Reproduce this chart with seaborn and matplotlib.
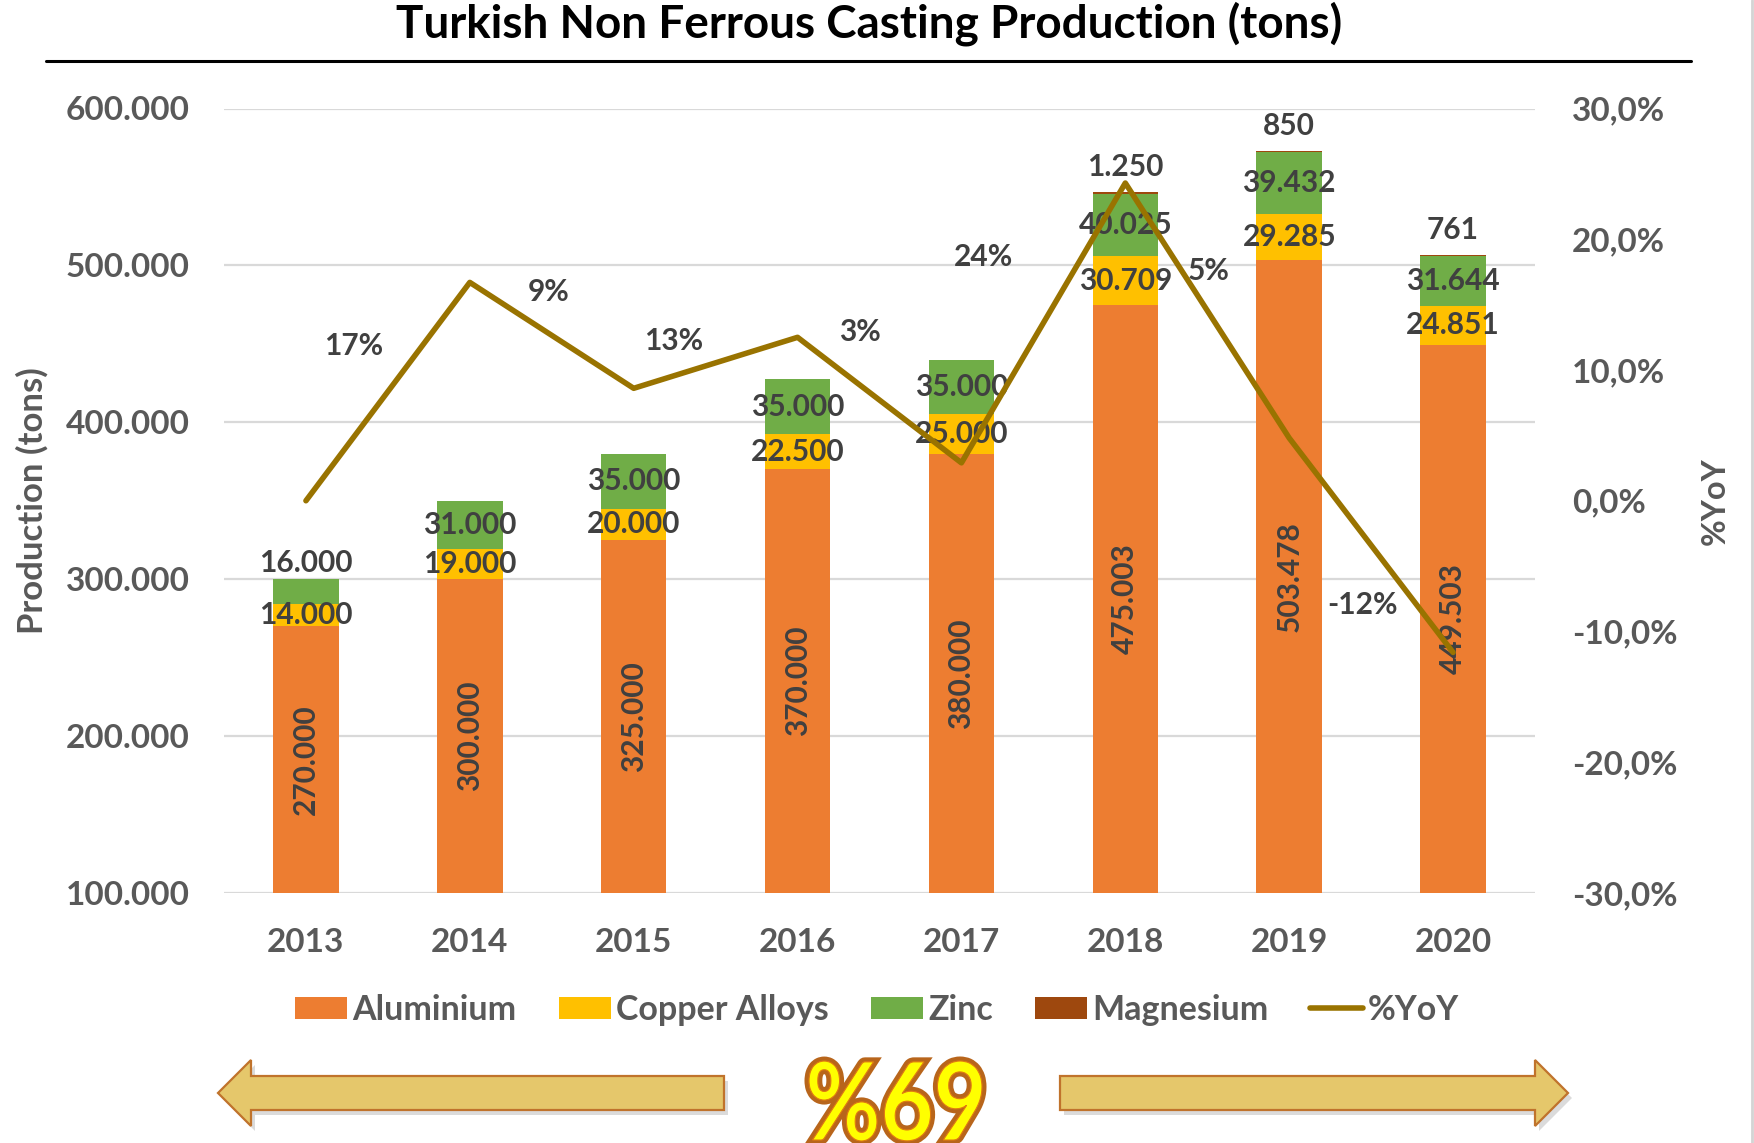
import matplotlib
matplotlib.use("Agg")
import matplotlib.pyplot as plt
import matplotlib.patheffects as pe
from matplotlib.patches import Polygon, Patch, PathPatch
from matplotlib.lines import Line2D
from matplotlib.textpath import TextPath
from matplotlib.font_manager import FontProperties
from matplotlib.transforms import Affine2D
import seaborn as sns
import numpy as np
import pandas as pd

# donnees
years = ["2013", "2014", "2015", "2016", "2017", "2018", "2019", "2020"]
aluminium = [270000, 300000, 325000, 370000, 380000, 475003, 503478, 449503]
copper = [14000, 19000, 20000, 22500, 25000, 30709, 29285, 24851]
zinc = [16000, 31000, 35000, 35000, 35000, 40025, 39432, 31644]
magnesium = [0, 0, 0, 0, 0, 1250, 850, 761]
yoy = [0.0, 16.7, 8.6, 12.5, 2.9, 24.3, 4.8, -11.6]
yoy_labels = ["", "17%", "9%", "13%", "3%", "24%", "5%", "-12%"]

layers = ["Aluminium", "Copper Alloys", "Zinc", "Magnesium"]
colors = {"Aluminium": "#ED7D31", "Copper Alloys": "#FFC000",
          "Zinc": "#70AD47", "Magnesium": "#9E480E"}
line_color = "#997300"
tick_color = "#595959"
label_color = "#404040"
FONT = ["Lato", "DejaVu Sans"]

sns.set_style("white")
plt.rcParams["font.family"] = FONT

W, H = 1754, 1143
fig = plt.figure(figsize=(W / 100, H / 100), dpi=100)
ax = fig.add_axes([224 / W, 1 - 893 / H, (1535 - 224) / W, (893 - 108.5) / H])

df = pd.DataFrame({"year": years, "Aluminium": aluminium, "Copper Alloys": copper,
                   "Zinc": zinc, "Magnesium": magnesium})
cum = df[layers].cumsum(axis=1)

# barres empilees : on dessine les cumuls du plus grand au plus petit
for name in reversed(layers):
    sns.barplot(x=df["year"], y=cum[name], color=colors[name], width=0.4,
                saturation=1, errorbar=None, linewidth=0, ax=ax)

ax.set_ylim(100000, 600000)
ax.set_xlim(-0.5, 7.5)
ax.set_yticks(range(100000, 600001, 100000))
ax.set_yticklabels([f"{v:,}".replace(",", ".") for v in range(100000, 600001, 100000)])
ax.yaxis.grid(True, color="#d9d9d9", linewidth=1.6)
ax.set_axisbelow(True)
ax.tick_params(axis="both", length=0, labelsize=24, labelcolor=tick_color)
ax.tick_params(axis="y", pad=24.5)
ax.tick_params(axis="x", pad=25)
for lab in ax.get_xticklabels() + ax.get_yticklabels():
    lab.set_fontweight("bold")
for s in ax.spines.values():
    s.set_visible(False)
ax.set_xlabel("")
ax.set_ylabel("Production (tons)", fontsize=25, fontweight="bold", color=tick_color, va="center")
ax.yaxis.set_label_coords((32 - 224) / 1311, 0.5)


def fmt(v):
    return f"{v:,}".replace(",", ".")


lab_kw = dict(ha="center", va="center", fontsize=21.5, fontweight="bold", color=label_color)
zinc_nudge = {0: 21}
for i in range(len(years)):
    a, c, z, m = aluminium[i], copper[i], zinc[i], magnesium[i]
    ax.text(i, (100000 + a) / 2, fmt(a), rotation=90, **lab_kw)
    ax.text(i, a + c / 2, fmt(c), **lab_kw)
    ax.annotate(fmt(z), (i, a + c + z / 2), xytext=(0, zinc_nudge.get(i, 0)),
                textcoords="offset points", **lab_kw)
    if m > 0:
        ax.annotate(fmt(m), (i, a + c + z + m), xytext=(0, 18),
                    textcoords="offset points", **lab_kw)

# axe secondaire %YoY
ax2 = ax.twinx()
sns.lineplot(x=np.arange(len(years)), y=yoy, color=line_color, linewidth=4, ax=ax2)
ax2.set_xlim(-0.5, 7.5)
ax2.set_ylim(-30, 30)
ax2.set_yticks(range(-30, 31, 10))
ax2.set_yticklabels([f"{v:.1f}%".replace(".", ",") for v in range(-30, 31, 10)])
ax2.tick_params(axis="y", length=0, labelsize=24, labelcolor=tick_color, pad=26.5)
for lab in ax2.get_yticklabels():
    lab.set_fontweight("bold")
ax2.grid(False)
for s in ax2.spines.values():
    s.set_visible(False)
ax2.set_ylabel("%YoY", fontsize=23.5, fontweight="bold", color=tick_color, va="center", rotation=90)
ax2.yaxis.set_label_coords((1715 - 224) / 1311, 0.5)

yoy_offsets = [None, (-84, -46), (-61, 69), (-89, -3), (-73, 94), (-102, -53), (-58, 120), (-65, 34)]
for i, txt in enumerate(yoy_labels):
    if txt:
        ax2.annotate(txt, (i, yoy[i]), xytext=yoy_offsets[i], textcoords="offset points", **lab_kw)

# titre et trait
fig.text(869 / W, 1 - 38 / H, "Turkish Non Ferrous Casting Production (tons)", ha="center",
         va="baseline", fontsize=33, fontweight="bold", color="black")
fig.add_artist(Line2D([46 / W, 1691 / W], [1 - 61 / H] * 2, color="black", linewidth=2.2))
fig.add_artist(Line2D([1752 / W] * 2, [0, 1], color="#d4d4d4", linewidth=2))

# legende
handles = [Patch(facecolor=colors[n], edgecolor="none") for n in layers]
handles.append(Line2D([0], [0], color=line_color, linewidth=4))
fig.legend(handles, layers + ["%YoY"], loc="center", bbox_to_anchor=(0.5, 1 - 1010 / H),
           ncol=5, frameon=False, handlelength=1.53, handleheight=0.62, handletextpad=0.15,
           columnspacing=1.24, labelcolor=tick_color,
           prop={"family": FONT, "weight": "bold", "size": 24.5})

# fleches du bas


def to_fig(pts):
    return [(x / W, 1 - y / H) for x, y in pts]


left_arrow = [(218, 1093), (251, 1060), (251, 1076), (724, 1076), (724, 1110), (251, 1110), (251, 1126)]
right_arrow = [(1568, 1093), (1535, 1060), (1535, 1076), (1060, 1076), (1060, 1110), (1535, 1110), (1535, 1126)]
for pts in (left_arrow, right_arrow):
    shadow = [(x + 4, y + 5) for x, y in pts]
    fig.add_artist(Polygon(to_fig(shadow), closed=True, transform=fig.transFigure,
                           facecolor="#9a9a9a", edgecolor="none", alpha=0.35))
    fig.add_artist(Polygon(to_fig(pts), closed=True, transform=fig.transFigure,
                           facecolor="#E5C76B", edgecolor="#C0732C", linewidth=1.6))

# texte "%69" etire dans sa boite (police etroite)
tp = TextPath((0, 0), "%69", size=100, prop=FontProperties(family=FONT, weight="bold"))
ext = tp.get_extents()
x0, x1, ytop, ybot = 809, 982, 1061, 1141
tr = (Affine2D().translate(-ext.x0, -ext.y0)
      .scale((x1 - x0) / ext.width / W, (ybot - ytop) / ext.height / H)
      .translate(x0 / W, 1 - ybot / H))
fig.add_artist(PathPatch(tr.transform_path(tp), transform=fig.transFigure,
                         facecolor="#FFFF00", edgecolor="#E07A10", linewidth=0.8,
                         path_effects=[pe.withStroke(linewidth=6.5, foreground="#B8651B")]))

fig.savefig("out.png", dpi=100)
